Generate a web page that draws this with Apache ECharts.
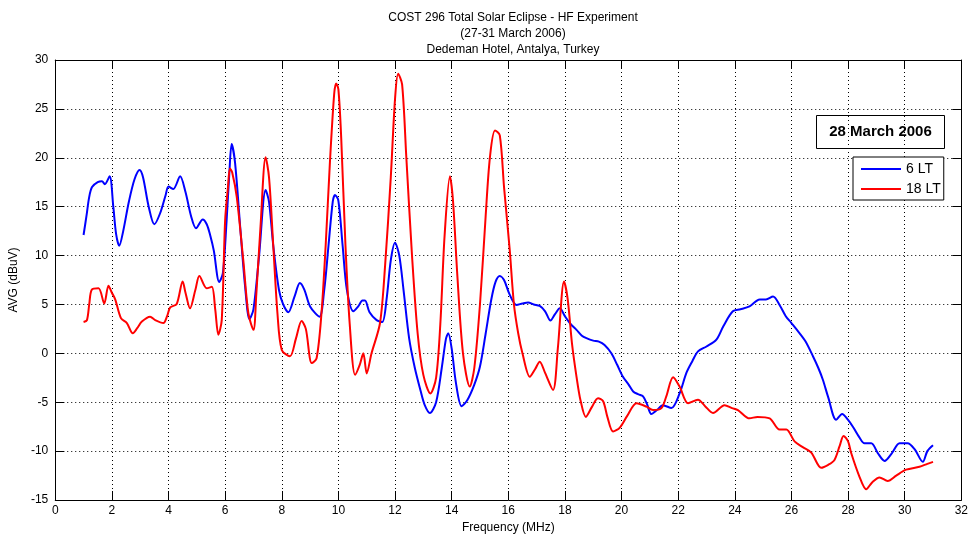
<!DOCTYPE html>
<html>
<head>
<meta charset="utf-8">
<title>COST 296 Total Solar Eclipse - HF Experiment</title>
<script src="https://cdn.jsdelivr.net/npm/echarts@6/dist/echarts.min.js"></script>
<style>
  html, body { margin: 0; padding: 0; background: #fff; }
  #chart { width: 971px; height: 539px; }
</style>
</head>
<body>
<div id="chart"></div>
<script>
// Axis ticks
const xTicks = [0, 32, 2];      // min, max, step (MHz)
const yTicks = [-15, 30, 5];    // min, max, step (dBuV)

// AVG level at 06 LT, [frequency MHz, dBuV]
const lt6 = [
  [1.0,12.1],[1.1,14.0],[1.2,16.0],[1.3,17.0],[1.5,17.5],[1.65,17.6],[1.75,17.3],[1.92,18.1],
  [2.05,15.0],[2.15,12.2],[2.26,11.0],[2.4,12.5],[2.6,15.5],[2.8,17.8],[2.98,18.75],[3.1,18.0],
  [3.3,15.0],[3.5,13.2],[3.7,14.3],[3.9,16.2],[4.0,17.05],[4.17,16.8],[4.41,18.1],[4.6,16.5],
  [4.8,14.0],[4.97,12.8],[5.21,13.7],[5.35,13.2],[5.47,12.1],[5.6,10.5],[5.79,7.3],[5.92,8.2],
  [6.05,13.5],[6.15,18.5],[6.23,21.4],[6.35,19.5],[6.53,13.0],[6.7,7.0],[6.86,3.5],[7.0,4.5],
  [7.2,10.0],[7.43,16.7],[7.55,15.5],[7.7,11.0],[7.9,6.5],[8.05,5.0],[8.23,4.2],[8.45,5.8],
  [8.64,7.2],[8.8,6.5],[9.0,4.8],[9.33,3.75],[9.5,6.5],[9.65,11.0],[9.8,15.5],[9.88,16.2],
  [10.0,15.6],[10.15,11.0],[10.3,6.5],[10.53,4.3],[10.7,4.8],[10.85,5.4],[10.94,5.4],[11.1,4.2],
  [11.35,3.4],[11.55,3.2],[11.7,5.5],[11.85,9.5],[12.0,11.3],[12.15,10.0],[12.3,6.5],[12.5,1.5],
  [12.7,-1.5],[12.9,-3.8],[13.05,-5.3],[13.23,-6.1],[13.45,-5.0],[13.65,-1.5],[13.8,1.5],[13.88,2.05],
  [14.0,0.5],[14.15,-3.0],[14.35,-5.4],[14.55,-4.8],[14.8,-3.2],[15.0,-1.35],[15.2,2.0],[15.4,5.5],
  [15.55,7.3],[15.7,7.9],[15.85,7.5],[16.05,6.0],[16.29,4.95],[16.5,5.1],[16.7,5.2],[16.9,5.0],
  [17.11,4.85],[17.3,4.3],[17.49,3.35],[17.65,4.0],[17.82,4.6],[18.0,3.8],[18.2,3.0],[18.41,2.4],
  [18.6,1.8],[18.76,1.55],[19.0,1.3],[19.2,1.2],[19.4,0.85],[19.64,0.0],[19.85,-1.2],[20.05,-2.4],
  [20.25,-3.2],[20.41,-3.9],[20.6,-4.2],[20.76,-4.4],[20.9,-5.2],[21.05,-6.2],[21.25,-5.8],[21.46,-5.3],
  [21.76,-5.6],[22.05,-4.1],[22.29,-2.0],[22.5,-0.8],[22.7,0.2],[23.0,0.7],[23.35,1.4],[23.6,2.8],
  [23.93,4.3],[24.2,4.5],[24.52,4.8],[24.88,5.5],[25.1,5.5],[25.35,5.8],[25.58,4.95],[25.8,3.8],
  [26.0,3.1],[26.29,2.05],[26.5,1.2],[26.76,-0.3],[26.95,-1.5],[27.11,-2.7],[27.3,-4.5],[27.58,-6.8],
  [27.79,-6.2],[28.0,-6.8],[28.17,-7.5],[28.4,-8.6],[28.58,-9.2],[28.82,-9.2],[29.05,-10.2],[29.29,-11.0],
  [29.55,-10.2],[29.82,-9.2],[30.1,-9.2],[30.35,-9.8],[30.64,-11.1],[30.8,-10.0],[31.0,-9.4]
];

// AVG level at 18 LT, [frequency MHz, dBuV]
const lt18 = [
  [1.0,3.2],[1.12,3.4],[1.2,5.0],[1.29,6.5],[1.53,6.65],[1.73,5.1],[1.88,6.9],[2.0,6.2],
  [2.12,5.5],[2.32,3.6],[2.53,3.1],[2.74,2.05],[2.9,2.6],[3.06,3.25],[3.35,3.75],[3.53,3.4],
  [3.82,3.1],[3.95,3.8],[4.06,4.7],[4.29,5.05],[4.5,7.35],[4.6,6.2],[4.76,4.6],[4.95,6.5],
  [5.09,7.9],[5.35,6.65],[5.53,6.8],[5.65,4.5],[5.76,1.9],[5.88,3.4],[6.0,13.6],[6.1,17.0],
  [6.17,18.9],[6.25,18.5],[6.41,16.0],[6.64,9.55],[6.82,4.1],[7.0,2.4],[7.1,6.0],[7.25,13.0],
  [7.43,20.05],[7.55,18.0],[7.7,11.0],[7.85,4.0],[8.0,0.35],[8.29,-0.3],[8.5,1.5],[8.7,3.3],
  [8.85,2.5],[9.06,-1.0],[9.23,-0.5],[9.4,4.0],[9.55,11.0],[9.7,19.5],[9.85,26.5],[9.92,27.6],
  [10.0,27.0],[10.1,22.0],[10.25,11.0],[10.4,3.0],[10.59,-2.2],[10.75,-1.2],[10.88,0.0],[11.0,-2.05],
  [11.17,0.0],[11.47,3.1],[11.65,9.0],[11.85,18.0],[12.0,26.0],[12.11,28.6],[12.25,27.5],[12.4,20.0],
  [12.6,10.0],[12.8,2.0],[13.0,-2.2],[13.25,-4.1],[13.45,-2.5],[13.6,3.0],[13.75,12.0],[13.94,18.1],
  [14.05,15.5],[14.2,8.0],[14.4,0.0],[14.64,-3.4],[14.8,-1.5],[15.0,5.0],[15.2,14.0],[15.35,20.0],
  [15.53,22.8],[15.7,22.3],[15.85,17.0],[16.05,10.6],[16.2,5.0],[16.35,2.05],[16.5,0.0],[16.76,-2.4],
  [16.95,-1.6],[17.11,-0.85],[17.3,-2.0],[17.58,-3.75],[17.75,0.5],[17.97,7.35],[18.1,5.5],[18.25,1.0],
  [18.41,-2.4],[18.55,-4.8],[18.74,-6.5],[18.95,-5.5],[19.17,-4.6],[19.35,-4.9],[19.5,-6.5],[19.7,-8.0],
  [19.94,-7.6],[20.2,-6.4],[20.53,-5.1],[20.88,-5.45],[21.11,-5.8],[21.41,-5.6],[21.58,-4.4],[21.82,-2.45],
  [22.05,-3.4],[22.35,-5.1],[22.7,-4.75],[22.95,-5.4],[23.23,-6.1],[23.64,-5.3],[23.9,-5.6],[24.11,-5.8],
  [24.52,-6.65],[24.8,-6.5],[25.23,-6.65],[25.58,-7.8],[25.82,-7.8],[26.11,-9.0],[26.4,-9.6],[26.7,-10.15],
  [27.05,-11.7],[27.3,-11.4],[27.52,-10.9],[27.7,-9.5],[27.84,-8.45],[28.0,-9.0],[28.11,-10.2],[28.4,-12.6],
  [28.64,-13.9],[28.85,-13.2],[29.11,-12.7],[29.4,-13.05],[29.7,-12.5],[30.05,-11.9],[30.52,-11.6],[30.8,-11.3],
  [31.0,-11.1]
];

const seriesNames = ['6 LT', '18 LT'];
const titleLines = ['COST 296 Total Solar Eclipse - HF Experiment', '(27-31 March 2006)', 'Dedeman Hotel, Antalya, Turkey'];
const dayLabel = '28 March 2006';

const FONT = '"Liberation Sans", Arial, Helvetica, sans-serif';
const gridLine = { show: true, lineStyle: { color: '#000', width: 1, type: [1, 3] } };
const tickIn = { show: true, inside: true, length: 9, lineStyle: { color: '#000' } };
const axisLine = { show: true, onZero: false, lineStyle: { color: '#000', width: 1 } };

const chart = echarts.init(document.getElementById('chart'), null, { renderer: 'canvas' });

chart.setOption({
  animation: false,
  backgroundColor: '#fff',
  title: {
    text: titleLines.join('\n'),
    left: 508, top: 5, textAlign: 'center',
    textStyle: { fontFamily: FONT, fontSize: 12, fontWeight: 'normal', color: '#000', lineHeight: 16 }
  },
  grid: { left: 55, right: 9, top: 60, bottom: 39, containLabel: false },
  legend: {
    data: seriesNames,
    orient: 'vertical',
    left: 853, top: 157,
    padding: [5, 3, 4, 8],
    itemGap: 6,
    itemWidth: 40, itemHeight: 2,
    icon: 'rect',
    backgroundColor: '#fff',
    borderColor: '#000', borderWidth: 1,
    textStyle: { fontFamily: FONT, fontSize: 14, color: '#000', padding: [0, 0, 0, 0] }
  },
  xAxis: [
    {
      type: 'value', min: xTicks[0], max: xTicks[1], interval: xTicks[2],
      name: 'Frequency (MHz)', nameLocation: 'middle', nameGap: 22,
      nameTextStyle: { fontFamily: FONT, fontSize: 12, color: '#000' },
      axisLine, axisTick: tickIn, splitLine: gridLine,
      axisLabel: { fontFamily: FONT, fontSize: 12, color: '#000', margin: 5 }
    },
    {
      type: 'value', position: 'top', min: xTicks[0], max: xTicks[1], interval: xTicks[2],
      axisLine, axisTick: tickIn, splitLine: { show: false }, axisLabel: { show: false }
    }
  ],
  yAxis: [
    {
      type: 'value', min: yTicks[0], max: yTicks[1], interval: yTicks[2],
      name: 'AVG (dBuV)', nameLocation: 'middle', nameGap: 30, nameRotate: 90,
      nameTextStyle: { fontFamily: FONT, fontSize: 12, color: '#000' },
      axisLine, axisTick: tickIn, splitLine: gridLine,
      axisLabel: { fontFamily: FONT, fontSize: 12, color: '#000', margin: 7 }
    },
    {
      type: 'value', position: 'right', min: yTicks[0], max: yTicks[1], interval: yTicks[2],
      axisLine, axisTick: tickIn, splitLine: { show: false }, axisLabel: { show: false }
    }
  ],
  graphic: [
    {
      type: 'group', left: 816, top: 115,
      children: [
        { type: 'rect', shape: { x: 0, y: 0, width: 128, height: 33 },
          style: { fill: '#fff', stroke: '#000', lineWidth: 1 } },
        { type: 'text', x: 64, y: 16.5,
          style: { text: dayLabel, fill: '#000', align: 'center', verticalAlign: 'middle',
                   font: 'bold 15px ' + FONT } }
      ]
    }
  ],
  series: [
    {
      name: seriesNames[0], type: 'line', data: lt6, xAxisIndex: 0, yAxisIndex: 0,
      showSymbol: false, smooth: 0.3, color: '#0000ff',
      lineStyle: { color: '#0000ff', width: 2 }, z: 3
    },
    {
      name: seriesNames[1], type: 'line', data: lt18, xAxisIndex: 0, yAxisIndex: 0,
      showSymbol: false, smooth: 0.3, color: '#ff0000',
      lineStyle: { color: '#ff0000', width: 2 }, z: 4
    }
  ]
});
</script>
</body>
</html>
